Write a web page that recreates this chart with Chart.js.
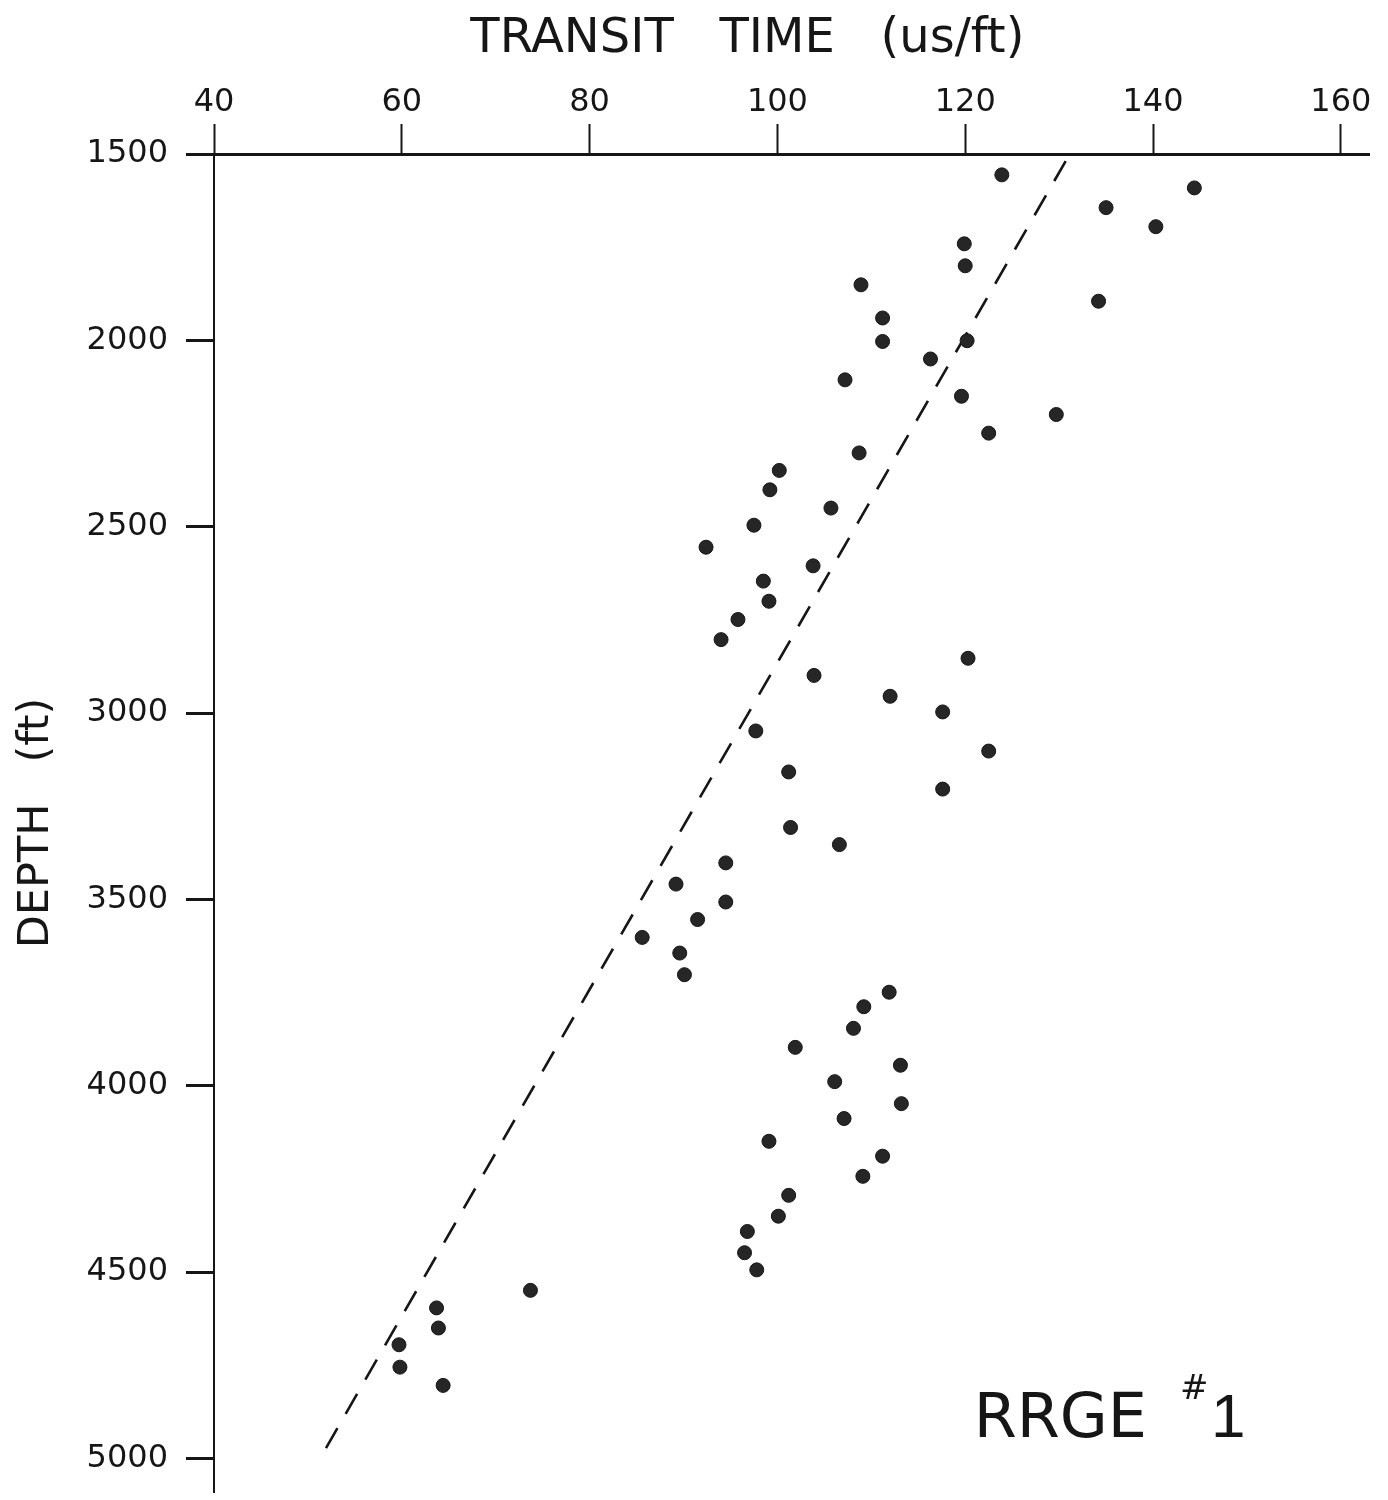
<!DOCTYPE html>
<html>
<head>
<meta charset="utf-8">
<title>RRGE #1 - transit time vs depth</title>
<script src="https://cdn.jsdelivr.net/npm/chart.js@4.4.1/dist/chart.umd.min.js"></script>
<style>
  body { margin: 0; background: #fff; }
  #wrap { width: 1388px; height: 1500px; }
</style>
</head>
<body>
<div id="wrap"><canvas id="depthChart" width="1388" height="1500"></canvas></div>
<script>
// sonic transit time (us/ft) and depth (ft)
const transitTime = [
  123.9, 144.4, 135.0, 140.3, 119.9, 120.0, 108.9, 134.2, 111.2, 111.2,
  120.2, 116.3, 107.2, 119.6, 129.7, 122.5, 108.7, 100.2, 99.2, 105.7,
  97.5, 92.4, 103.8, 98.5, 99.1, 95.8, 94.0, 120.3, 103.9, 112.0,
  117.6, 97.7, 122.5, 101.2, 117.6, 101.4, 106.6, 94.5, 89.2, 94.5,
  91.5, 85.6, 89.6, 90.1, 111.9, 109.2, 108.1, 101.9, 113.1, 106.1,
  113.2, 107.1, 99.1, 111.2, 109.1, 101.2, 100.1, 96.8, 96.5, 97.8,
  73.7, 63.7, 63.9, 59.7, 59.8, 64.4
];
const depth = [
  1556, 1591, 1644, 1695, 1741, 1800, 1851, 1895, 1940, 2003,
  2001, 2050, 2106, 2150, 2199, 2249, 2302, 2349, 2401, 2450,
  2496, 2555, 2605, 2646, 2700, 2749, 2803, 2853, 2899, 2955,
  2997, 3048, 3102, 3158, 3204, 3307, 3353, 3402, 3459, 3507,
  3554, 3602, 3644, 3702, 3749, 3788, 3846, 3897, 3945, 3989,
  4048, 4088, 4149, 4189, 4243, 4294, 4350, 4391, 4448, 4494,
  4549, 4596, 4650, 4695, 4755, 4804
];

// dashed normal-compaction trend line (end points)
const trendTime = [130.7, 51.5];
const trendDepth = [1519, 4991];

const timeTicks = [40, 60, 80, 100, 120, 140, 160];
const depthTicks = [1500, 2000, 2500, 3000, 3500, 4000, 4500, 5000];

const FONT = '"DejaVu Sans", "Liberation Sans", sans-serif';
const INK = '#161616';

// top title and the well label are drawn by hand
const textPlugin = {
  id: 'textPlugin',
  afterDraw(chart) {
    const ctx = chart.ctx;
    const xs = chart.scales.x;
    const ys = chart.scales.y;
    ctx.save();
    ctx.fillStyle = INK;
    ctx.textBaseline = 'alphabetic';

    ctx.textAlign = 'center';
    ctx.font = '48px ' + FONT;
    ctx.fillText('TRANSIT   TIME   (us/ft)', xs.getPixelForValue(96.8), 52);

    ctx.textAlign = 'left';
    ctx.font = '62px ' + FONT;
    ctx.fillText('RRGE', xs.getPixelForValue(120.9), ys.getPixelForValue(4942));
    ctx.textAlign = 'center';
    ctx.font = '34px ' + FONT;
    ctx.fillText('#', xs.getPixelForValue(144.4), ys.getPixelForValue(4840));
    ctx.font = '62px "Liberation Sans", ' + FONT;
    ctx.fillText('1', xs.getPixelForValue(148.0), ys.getPixelForValue(4942));
    ctx.restore();
  }
};

const points = transitTime.map((t, i) => ({ x: t, y: depth[i] }));
const trend = trendTime.map((t, i) => ({ x: t, y: trendDepth[i] }));

new Chart(document.getElementById('depthChart').getContext('2d'), {
  type: 'scatter',
  data: {
    datasets: [
      {
        label: 'RRGE #1',
        data: points,
        pointRadius: 7,
        pointBackgroundColor: '#262626',
        pointBorderColor: INK,
        pointBorderWidth: 1
      },
      {
        label: 'trend',
        data: trend,
        showLine: true,
        borderColor: INK,
        borderWidth: 2.6,
        borderDash: [23, 16.5],
        pointRadius: 0
      }
    ]
  },
  options: {
    responsive: false,
    animation: false,
    layout: { padding: { top: 0, left: 0, right: 19, bottom: 5 } },
    plugins: {
      legend: { display: false },
      tooltip: { enabled: false }
    },
    scales: {
      x: {
        type: 'linear',
        position: 'top',
        min: 40,
        max: 163,
        afterBuildTicks: (scale) => { scale.ticks = timeTicks.map(v => ({ value: v })); },
        afterFit: (scale) => {
          scale.height = 154;
          scale.paddingLeft = 0;
          scale.paddingRight = 0;
        },
        ticks: {
          color: INK,
          font: { family: FONT, size: 32 },
          padding: 2,
          maxRotation: 0,
          callback: (v) => String(v)
        },
        grid: {
          drawOnChartArea: false,
          tickLength: 30,
          tickWidth: 2,
          tickColor: INK
        },
        border: { display: true, color: INK, width: 3 }
      },
      y: {
        type: 'linear',
        reverse: true,
        min: 1500,
        max: 5090,
        afterBuildTicks: (scale) => { scale.ticks = depthTicks.map(v => ({ value: v })); },
        afterFit: (scale) => {
          scale.width = 214;
          scale.paddingTop = 0;
          scale.paddingBottom = 0;
        },
        title: {
          display: true,
          text: 'DEPTH   (ft)',
          color: INK,
          font: { family: FONT, size: 43 },
          padding: { top: 11, bottom: 0 }
        },
        ticks: {
          color: INK,
          font: { family: FONT, size: 32 },
          padding: 18,
          callback: (v) => String(v)
        },
        grid: {
          drawOnChartArea: false,
          tickLength: 28,
          tickWidth: 3,
          tickColor: INK
        },
        border: { display: true, color: INK, width: 2 }
      }
    }
  },
  plugins: [textPlugin]
});
</script>
</body>
</html>
